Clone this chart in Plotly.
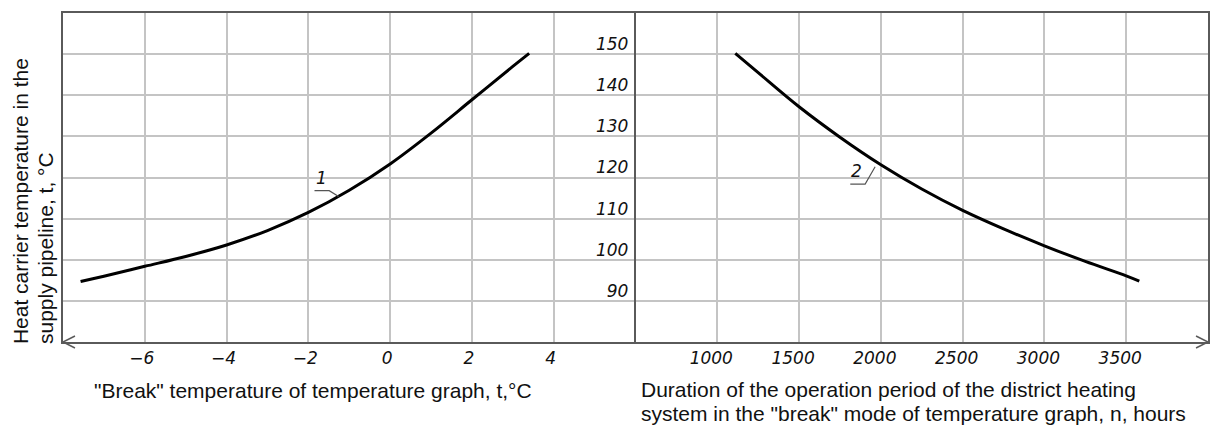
import plotly.graph_objects as go

# ---------------- data ----------------
break_temp = [-7.57, -7, -6, -5, -4, -3, -2, -1, 0, 1, 2, 3, 3.4]
supply_temp_1 = [94.7, 96.0, 98.4, 100.8, 103.6, 107.1, 111.5, 116.9, 123.3, 130.8, 138.9, 147.0, 150.2]

duration_hours = [1110, 1250, 1500, 1750, 2000, 2250, 2500, 2750, 3000, 3250, 3500, 3580]
supply_temp_2 = [150.2, 145.5, 137.2, 129.8, 123.1, 117.2, 112.0, 107.5, 103.4, 99.6, 96.1, 94.8]

left_ticks = [-6, -4, -2, 0, 2, 4]
right_ticks = [1000, 1500, 2000, 2500, 3000, 3500]
y_ticks = [90, 100, 110, 120, 130, 140, 150]

x_left_title = '"Break" temperature of temperature graph, t,°C'
x_right_title_lines = ["Duration of the operation period of the district heating",
                       'system in the "break" mode of temperature graph, n, hours']
y_title_lines = ["Heat carrier temperature in the", "supply pipeline, t, °C"]

# ---------------- style ----------------
W, H = 1216, 425
ML, MR, MT, MB = 63, 6, 13, 83
PW, PH = W - ML - MR, H - MT - MB
GRID = "#c4c4c4"
FRAME = "#5a5a5a"
tickfont = dict(family="DejaVu Sans", size=17, style="italic", color="#111111")
titlefont = dict(family="Liberation Sans, Arial, sans-serif", size=21, color="#111111")

def px_x(p):
    return (p - ML) / PW

def px_y(p):
    return (H - MB - p) / PH

def ital(s):
    return "<i>" + s + "</i>"

fig = go.Figure()
fig.add_trace(go.Scatter(x=break_temp, y=supply_temp_1, mode="lines",
                         line=dict(color="black", width=3, shape="spline", smoothing=1.0),
                         xaxis="x", yaxis="y", showlegend=False, hoverinfo="x+y"))
fig.add_trace(go.Scatter(x=duration_hours, y=supply_temp_2, mode="lines",
                         line=dict(color="black", width=3, shape="spline", smoothing=1.0),
                         xaxis="x2", yaxis="y2", showlegend=False, hoverinfo="x+y"))

common_x = dict(showgrid=True, gridcolor=GRID, gridwidth=1.5, zeroline=False,
                showline=True, linecolor=FRAME, linewidth=1.5, mirror=True,
                ticks="", tickfont=tickfont, fixedrange=True)
common_y = dict(range=[80, 160], tickvals=[80] + y_ticks + [160], showgrid=True,
                gridcolor=GRID, gridwidth=1.5, zeroline=False, showline=True,
                linecolor=FRAME, linewidth=1.5, ticks="", fixedrange=True)

fig.update_layout(
    width=W, height=H,
    margin=dict(l=ML, r=MR, t=MT, b=MB),
    paper_bgcolor="white", plot_bgcolor="white",
    xaxis=dict(domain=[0, 0.5], range=[-8, 6], tickvals=left_ticks,
               ticktext=[ital(("\u2212" + str(-v)) if v < 0 else str(v)) for v in left_ticks],
               ticklabelshift=-3, anchor="y", **common_x),
    xaxis2=dict(domain=[0.5, 1], range=[500, 4000], tickvals=right_ticks,
                ticktext=[ital(str(v)) for v in right_ticks],
                ticklabelshift=-6, anchor="y2", **common_x),
    yaxis=dict(anchor="x", showticklabels=False, mirror=False, **common_y),
    yaxis2=dict(anchor="x2", side="left", showticklabels=True, mirror=True,
                ticktext=[""] + [ital(str(v)) for v in y_ticks] + [""],
                tickfont=tickfont, ticklabelshift=-10, ticklabelstandoff=2,
                matches="y", **common_y),
)

# axis arrows at both ends of the bottom line
ax_len, ax_half = 12 / PW, 6 / PH
fig.add_shape(type="path", xref="paper", yref="paper",
              path=f"M {ax_len},{ax_half} L 0,0 L {ax_len},{-ax_half}",
              line=dict(color=FRAME, width=1.5))
fig.add_shape(type="path", xref="paper", yref="paper",
              path=f"M {1 - ax_len},{ax_half} L 1,0 L {1 - ax_len},{-ax_half}",
              line=dict(color=FRAME, width=1.5))

# curve labels with leader lines
labfont = dict(family="DejaVu Sans", size=17, style="italic", color="#111")
fig.add_annotation(x=-1.67, y=119.8, xref="x", yref="y", text=ital("1"), showarrow=False,
                   font=labfont)
fig.add_shape(type="path", xref="x", yref="y",
              path="M -1.85,116.8 L -1.49,116.8 L -1.26,115.4",
              line=dict(color="#555", width=1.2))
fig.add_annotation(x=1849, y=121.5, xref="x2", yref="y2", text=ital("2"), showarrow=False,
                   font=labfont)
fig.add_shape(type="path", xref="x2", yref="y2",
              path="M 1813,118.4 L 1904,118.4 L 1965,122.6",
              line=dict(color="#555", width=1.2))

# axis titles
fig.add_annotation(x=px_x(92), y=px_y(390), xref="paper", yref="paper", xanchor="left",
                   yanchor="middle", text=x_left_title, showarrow=False, font=titlefont)
for i, line in enumerate(x_right_title_lines):
    fig.add_annotation(x=px_x(640), y=px_y(389 + 24 * i), xref="paper", yref="paper",
                       xanchor="left", yanchor="middle", text=line, showarrow=False,
                       font=titlefont)
for i, line in enumerate(y_title_lines):
    fig.add_annotation(x=px_x(21 + 25 * i), y=px_y(346), xref="paper", yref="paper",
                       xanchor="center", yanchor="bottom", textangle=-90, text=line,
                       showarrow=False, font=titlefont)

fig.write_html("out.html")
